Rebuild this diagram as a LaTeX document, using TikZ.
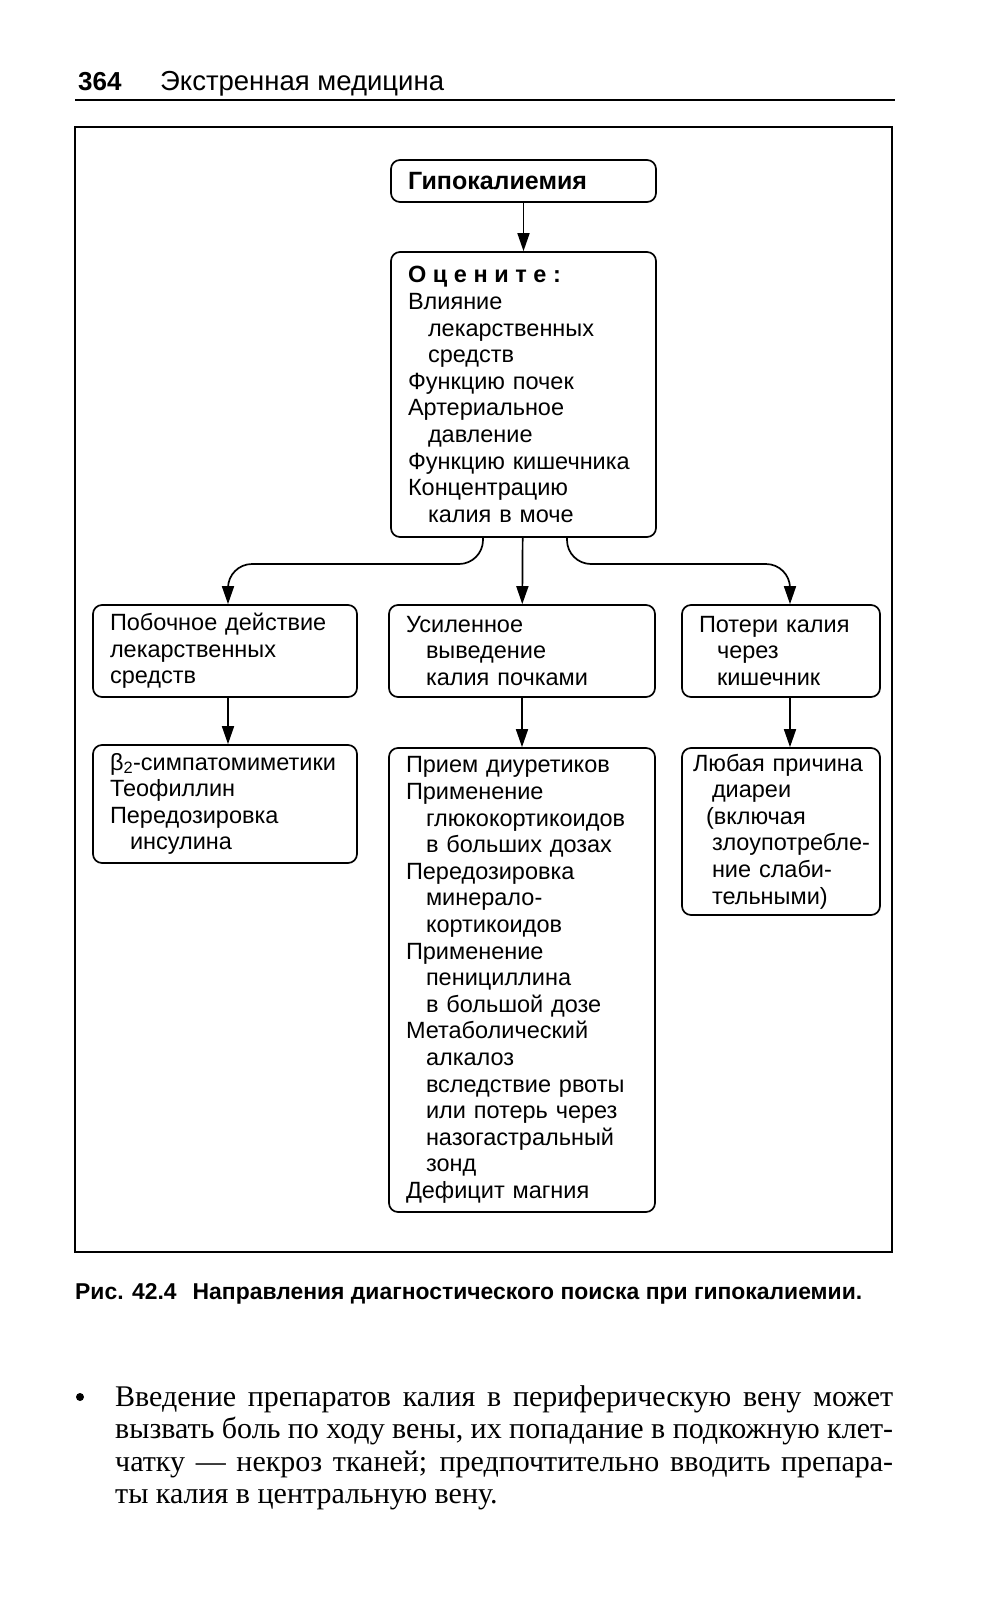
\documentclass[tikz,border=0pt]{standalone}
\usepackage{fontspec}
\setmainfont{Liberation Sans}
\newfontfamily\serifbody{Liberation Serif}
\usetikzlibrary{arrows.meta}
\newcommand\myind{\hspace*{20pt}}
\begin{document}
\begin{tikzpicture}[x=1pt,y=-1pt,
  box/.style={draw, line width=1.7pt, rounded corners=9pt, align=left,
    inner xsep=17pt, inner ysep=0pt,
    font=\fontsize{23.5}{26.6}\selectfont},
  arr/.style={line width=1.7pt, -{Triangle[length=18pt,width=12pt]}},
  lbl/.style={inner sep=0pt, anchor=base west}]
\useasboundingbox (0,0) rectangle (990,1601);

% header
\node[lbl, font=\fontsize{26}{30}\selectfont\bfseries] (pnum) at (78,90) {364};
\node[lbl, font=\fontsize{27.5}{30}\selectfont] (ptitle) at (160,90) {Экстренная медицина};
\draw[line width=1.4pt] (75,100) -- (895,100);

% frame
\draw[line width=1.9pt] (75,127) rectangle (892,1252);

% boxes
\node[box, text width=231pt, minimum height=42pt, font=\fontsize{25}{28}\selectfont\bfseries] (top) at (523.5,181)
  {Гипокалиемия};
\node[box, text width=231pt, minimum height=285pt] (eval) at (523.5,394.5)
  {{\bfseries\addfontfeatures{LetterSpace=28}Оцените:}\\
   Влияние\\ \myind лекарственных\\ \myind средств\\
   Функцию почек\\ Артериальное\\ \myind давление\\
   Функцию кишечника\\ Концентрацию\\ \myind калия в моче};
\node[box, text width=230pt, minimum height=92pt] (left1) at (225,651)
  {Побочное действие\\ лекарственных\\ средств};
\node[box, text width=232pt, minimum height=92pt] (mid1) at (522,651)
  {Усиленное\\ \myind выведение\\ \myind калия почками};
\node[box, text width=164pt, minimum height=92pt] (right1) at (781,651)
  {Потери калия\\ \hspace*{18pt}через\\ \hspace*{18pt}кишечник};
\node[box, text width=230pt, minimum height=118pt] (left2) at (225,804)
  {β\textsubscript{2}-симпатомиметики\\ Теофиллин\\ Передозировка\\ \myind инсулина};
\node[box, text width=232pt, minimum height=464pt] (mid2) at (522,980)
  {Прием диуретиков\\ Применение\\ \myind глюкокортикоидов\\ \myind в больших дозах\\
   Передозировка\\ \myind минерало-\\ \myind кортикоидов\\
   Применение\\ \myind пенициллина\\ \myind в большой дозе\\
   Метаболический\\ \myind алкалоз\\ \myind вследствие рвоты\\ \myind или потерь через\\
   \myind назогастральный\\ \myind зонд\\ Дефицит магния};
\node[box, inner xsep=3pt, text width=192pt, minimum height=167pt] (right2) at (781,831.5)
  {\hspace*{8pt}Любая причина\\ \hspace*{27pt}диареи\\ \hspace*{21pt}(включая\\ \hspace*{27pt}злоупотребле-\\
   \hspace*{27pt}ние слаби-\\ \hspace*{27pt}тельными)};

% connectors
\coordinate (cL) at (483,0);
\coordinate (cR) at (567,0);
\coordinate (xL) at (228,0);
\coordinate (xR) at (790,0);
\coordinate (yh) at (0,564);
\draw[arr] (top) -- (eval);
\draw[arr] (eval) -- (mid1);
\draw[arr, rounded corners=24pt] (eval.south -| cL) |- (yh -| 350,0) -| (left1.north -| xL);
\draw[arr, rounded corners=24pt] (eval.south -| cR) |- (yh -| 700,0) -| (right1.north -| xR);
\draw[arr] (left1.south -| xL) -- (left2.north -| xL);
\draw[arr] (mid1) -- (mid2);
\draw[arr] (right1.south -| xR) -- (right2.north -| xR);

% caption
\node[lbl, font=\fontsize{22.9}{26}\selectfont\bfseries] (cap) at (75,1299)
  {Рис. 42.4\hspace{16pt}Направления диагностического поиска при гипокалиемии.};

% body text
\node[circle, fill, inner sep=0pt, minimum size=8pt] (bul) at (80,1397) {};
\begin{scope}[every node/.style={lbl, font=\serifbody\fontsize{30}{32}\selectfont}]
\node (b1) at (115,1406) {\makebox[778pt][s]{Введение препаратов калия в периферическую вену может}};
\node (b2) at (115,1438.5) {\makebox[778pt][s]{вызвать боль по ходу вены, их попадание в подкожную клет-}};
\node (b3) at (115,1471) {\makebox[778pt][s]{чатку — некроз тканей; предпочтительно вводить препара-}};
\node (b4) at (115,1503.5) {ты калия в центральную вену.};
\end{scope}
\end{tikzpicture}
\end{document}
